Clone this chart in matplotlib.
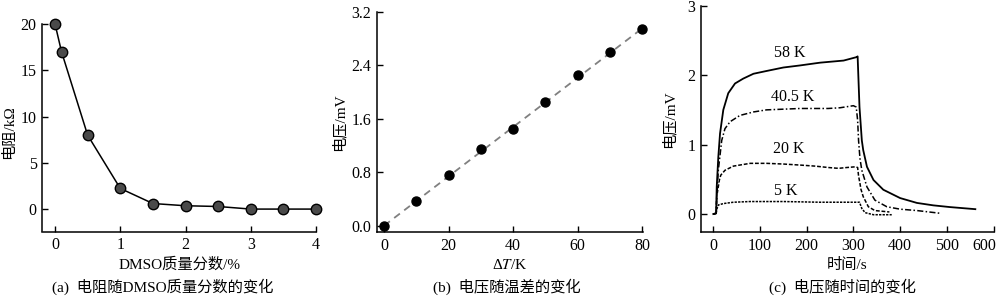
import numpy as np
import matplotlib
matplotlib.use("Agg")
import matplotlib.pyplot as plt
import matplotlib.transforms as mtransforms

plt.rcParams['font.family'] = ['Liberation Serif', 'Noto Sans CJK SC']
plt.rcParams['mathtext.fontset'] = 'stix'
plt.rcParams['font.size'] = 11

# (a) resistance vs DMSO mass fraction
dmso = [0, 0.1, 0.5, 1, 1.5, 2, 2.5, 3, 3.5, 4]
resist = [20, 17, 8, 2.25, 0.62, 0.38, 0.3, 0.02, 0.02, 0.02]

# (b) voltage vs temperature difference
dT = [0, 10, 20, 30, 40, 50, 60, 70, 80]
volt_b = [0.0, 0.374, 0.753, 1.147, 1.45, 1.85, 2.248, 2.597, 2.945]
fit_x = [0, 80]
fit_y = [0.0, 2.95]

# (c) voltage vs time
t58 = [0, 6, 7.3, 10.7, 14.4, 21.4, 32, 46.5, 64, 86, 114, 150, 186, 218, 229, 279,
       307, 309, 313, 318, 321, 329, 343, 364, 400, 436, 471, 507, 561]
v58 = [0, 0.01, 0.39, 0.82, 1.16, 1.50, 1.74, 1.88, 1.95, 2.02, 2.06, 2.11, 2.14, 2.17,
       2.18, 2.21, 2.26, 2.27, 1.54, 1.06, 0.92, 0.68, 0.49, 0.35, 0.23, 0.16, 0.125,
       0.10, 0.07]
t40 = [0, 6, 8, 10.7, 18, 25, 36, 57, 86, 114, 150, 186, 246, 271, 300, 306, 309,
       311, 314, 318, 329, 346, 371.5, 400, 436, 487]
v40 = [0, 0.01, 0.3, 0.63, 1.06, 1.23, 1.33, 1.42, 1.47, 1.50, 1.51, 1.52, 1.52,
       1.53, 1.56, 1.54, 1.35, 1.06, 0.80, 0.63, 0.39, 0.20, 0.105, 0.07, 0.05, 0.01]
t20 = [0, 6, 7.3, 13, 16, 25, 43, 79, 114, 150, 186, 218, 246, 264, 271, 286, 304,
       309, 311, 314, 316, 321, 332, 346, 377]
v20 = [0, 0.01, 0.25, 0.49, 0.56, 0.63, 0.69, 0.73, 0.73, 0.72, 0.705, 0.69, 0.67,
       0.66, 0.66, 0.67, 0.68, 0.67, 0.55, 0.44, 0.36, 0.25, 0.105, 0.05, 0.03]
t5 = [0, 6, 8, 10.7, 21, 43, 79, 150, 229, 307, 313, 318, 325, 343, 382]
v5 = [0, 0.01, 0.08, 0.13, 0.15, 0.17, 0.18, 0.18, 0.17, 0.17, 0.17, 0.08, 0.02,
      -0.01, -0.01]
curve_labels = ['58 K', '40.5 K', '20 K', '5 K']
label_xy = [(164, 2.32), (171, 1.69), (161, 0.93), (156, 0.335)]

captions = ['(a)  电阻随DMSO质量分数的变化', '(b)  电压随温差的变化', '(c)  电压随时间的变化']

W, H = 1000, 298
fig = plt.figure(figsize=(W / 100, H / 100), dpi=100)


def box(l, t, r, b):
    return [l / W, 1 - b / H, (r - l) / W, (b - t) / H]


ax1 = fig.add_axes(box(42.3, 24, 316, 231.5))
ax2 = fig.add_axes(box(376.7, 11.7, 642.5, 232))
ax3 = fig.add_axes(box(700.7, 5.7, 994, 232.3))

for ax in (ax1, ax2, ax3):
    ax.spines['top'].set_visible(False)
    ax.spines['right'].set_visible(False)
    for s in ('left', 'bottom'):
        ax.spines[s].set_linewidth(1.1)
    ax.tick_params(direction='in', length=4, width=1, labelsize=11.5, pad=4)
    ax.xaxis.label.set_verticalalignment('center')
    ax.yaxis.label.set_verticalalignment('center')

# panel a
ax1.plot(dmso, resist, '-', color='black', lw=1.1, marker='o', ms=7.5,
         mfc='#4a4a4a', mec='black', mew=1.0, clip_on=False)
ax1.set_xlim(-0.195, 4.0)
ax1.set_ylim(-2.4, 20)
ax1.set_xticks([0, 1, 2, 3, 4])
ax1.set_yticks([0, 5, 10, 15, 20])
ax1.set_xlabel('DMSO质量分数/%')
ax1.set_ylabel('电阻/kΩ')
ax1.xaxis.set_label_coords(0.5, -0.16)
ax1.yaxis.set_label_coords(-0.12, 0.48)

# panel b
ax2.plot(fit_x, fit_y, color='#808080', lw=1.3, dashes=(4, 3))
ax2.plot(dT, volt_b, 'o', color='black', ms=6.5, clip_on=False)
ax2.set_xlim(-2.3, 80.1)
ax2.set_ylim(-0.095, 3.2)
ax2.set_xticks([0, 20, 40, 60, 80])
ax2.set_yticks([0.0, 0.8, 1.6, 2.4, 3.2])
ax2.set_yticklabels(['0.0', '0.8', '1.6', '2.4', '3.2'])
ax2.set_xlabel('Δ$T$/K')
ax2.set_ylabel('电压/mV')
ax2.xaxis.set_label_coords(0.5, -0.15)
ax2.yaxis.set_label_coords(-0.143, 0.5)

# panel c
ax3.plot(t58, v58, '-', color='black', lw=1.3)
ax3.plot(t40, v40, color='black', lw=1.1, dashes=(4, 1.5, 1, 1.5))
ax3.plot(t20, v20, color='black', lw=1.1, dashes=(2.5, 1.2))
ax3.plot(t5, v5, color='black', lw=1.1, dashes=(1.5, 0.8))
for lab, (x, y) in zip(curve_labels, label_xy):
    ax3.text(x, y, lab, ha='center', va='center', fontsize=11.5)
ax3.set_xlim(-27, 601)
ax3.set_ylim(-0.263, 3.0)
ax3.set_xticks([0, 100, 200, 300, 400, 500, 600])
ax3.set_yticks([0, 1, 2, 3])
ax3.set_xlabel('时间/s')
ax3.set_ylabel('电压/mV')
ax3.xaxis.set_label_coords(0.5, -0.144)
ax3.yaxis.set_label_coords(-0.108, 0.5)

# keep the last tick label inside the picture
last = ax3.get_xticklabels()[-1]
last.set_transform(last.get_transform() + mtransforms.ScaledTranslation(-9 / 100, 0, fig.dpi_scale_trans))

for cx, cap in zip([163, 507, 842], captions):
    fig.text(cx / W, 1 - 287 / H, cap, ha='center', va='center', fontsize=11)

fig.savefig('out.png', dpi=100)
